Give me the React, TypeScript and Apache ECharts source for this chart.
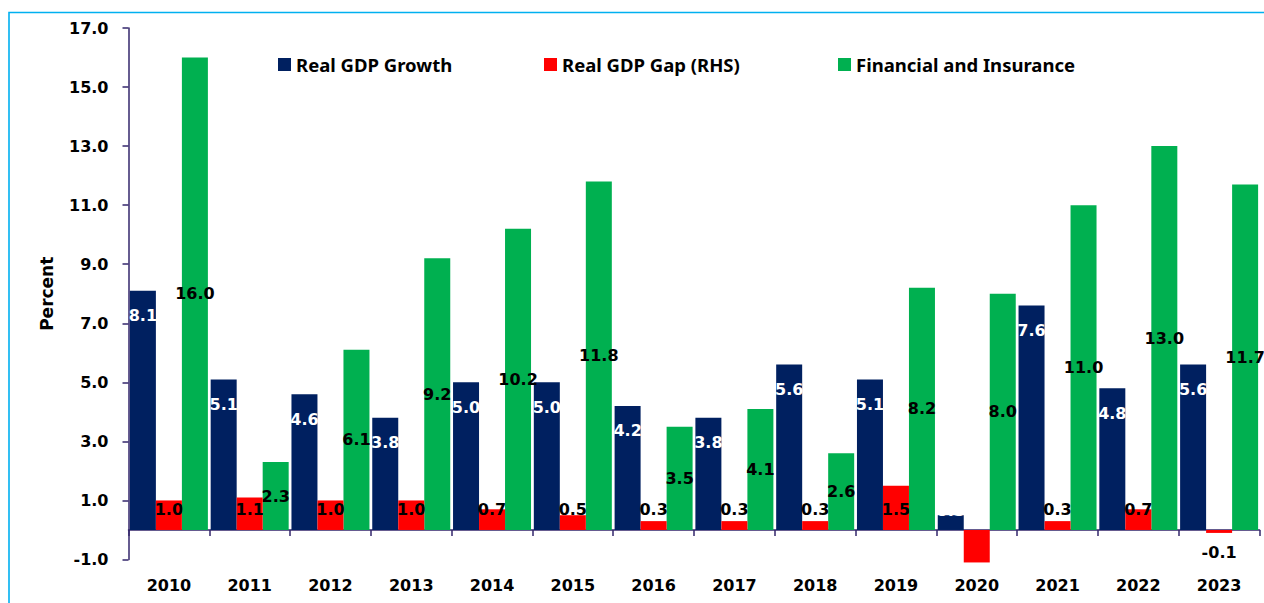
import React, { useEffect, useRef } from "react";
import * as echarts from "echarts";

const categories = ["2010", "2011", "2012", "2013", "2014", "2015", "2016", "2017", "2018", "2019", "2020", "2021", "2022", "2023"];
const realGdpGrowth = [8.1, 5.1, 4.6, 3.8, 5.0, 5.0, 4.2, 3.8, 5.6, 5.1, 0.5, 7.6, 4.8, 5.6];
const realGdpGap = [1.0, 1.1, 1.0, 1.0, 0.7, 0.5, 0.3, 0.3, 0.3, 1.5, -1.1, 0.3, 0.7, -0.1];
const financialInsurance = [16.0, 2.3, 6.1, 9.2, 10.2, 11.8, 3.5, 4.1, 2.6, 8.2, 8.0, 11.0, 13.0, 11.7];
const yTickLabels = ["-1.0", "1.0", "3.0", "5.0", "7.0", "9.0", "11.0", "13.0", "15.0", "17.0"];
const hiddenGapLabels = ["2020"];

const seriesNames = ["Real GDP Growth", "Real GDP Gap (RHS)", "Financial and Insurance"];

const NAVY = "#002060";
const RED = "#FF0000";
const GREEN = "#00B050";
const AXIS = "#33266B";
const FONT = "DejaVu Sans";

export default function App() {
  const ref = useRef<HTMLDivElement>(null);
  useEffect(() => {
    if (!ref.current) return;
    const chart = echarts.init(ref.current, undefined, { renderer: "svg" });
    const labelBase = { fontFamily: FONT, fontWeight: "bold" as const, fontSize: 16 };
    const legendText = { fontFamily: "Noto Sans", fontWeight: "bold" as const, fontSize: 18.5, color: "#000" };
    const legendCommon = {
      top: 50,
      icon: "rect",
      itemWidth: 13,
      itemHeight: 13,
      itemGap: 5,
      textStyle: legendText,
      selectedMode: false,
    };
    chart.setOption({
      animation: false,
      graphic: [
        {
          type: "rect",
          shape: { x: 9, y: 12.5, width: 1400, height: 800 },
          style: { fill: "none", stroke: "#00B0F0", lineWidth: 1.6 },
          z: -10,
          silent: true,
        },
      ],
      legend: [
        { ...legendCommon, left: 273, data: [seriesNames[0]] },
        { ...legendCommon, left: 539, data: [seriesNames[1]] },
        { ...legendCommon, left: 833, data: [seriesNames[2]] },
      ],
      grid: {
        left: 128.5,
        right: 4.5,
        top: 28,
        bottom: 43.5,
        containLabel: false,
        outerBoundsMode: "none",
      },
      xAxis: {
        type: "category",
        data: categories,
        axisLine: { show: true, onZero: true, onZeroAxisIndex: 0, lineStyle: { color: AXIS, width: 1.5 } },
        axisTick: { show: true, length: 6, lineStyle: { color: AXIS, width: 1.5 }, alignWithLabel: false },
        axisLabel: { ...labelBase, color: "#000", margin: 18 },
        splitLine: { show: false },
      },
      yAxis: [
        {
          type: "value",
          min: -1,
          max: 17,
          show: false,
          splitLine: { show: false },
        },
        {
          type: "value",
          min: 0,
          max: (yTickLabels.length - 1) * 2,
          interval: 2,
          position: "left",
          name: "Percent",
          nameLocation: "middle",
          nameGap: 73,
          nameTextStyle: { fontFamily: FONT, fontWeight: "bold", fontSize: 17, color: "#000" },
          axisLine: { show: true, lineStyle: { color: AXIS, width: 1.5 } },
          axisTick: { show: true, length: 6, lineStyle: { color: AXIS, width: 1.5 } },
          axisLabel: {
            ...labelBase,
            color: "#000",
            margin: 20,
            formatter: (v: number) => yTickLabels[Math.round(v / 2)] ?? "",
          },
          splitLine: { show: false },
        },
      ],
      series: [
        {
          name: seriesNames[0],
          type: "bar",
          yAxisIndex: 0,
          barWidth: 26,
          barGap: "0%",
          itemStyle: { color: NAVY },
          data: realGdpGrowth.map((v) =>
            v < 1
              ? { value: v, label: { position: "top", distance: -3 } }
              : v
          ),
          label: {
            show: true,
            ...labelBase,
            color: "#fff",
            position: "insideTop",
            distance: 17,
            formatter: (p: any) => Number(p.value).toFixed(1),
          },
        },
        {
          name: seriesNames[1],
          type: "bar",
          yAxisIndex: 0,
          barWidth: 26,
          barGap: "0%",
          clip: false,
          itemStyle: { color: RED },
          data: realGdpGap.map((v, i) => {
            if (hiddenGapLabels.includes(categories[i])) return { value: v, label: { show: false } };
            if (v < 0) return { value: v, label: { position: "bottom", distance: 12 } };
            return v;
          }),
          label: {
            show: true,
            ...labelBase,
            color: "#000",
            position: "insideBottom",
            distance: 12,
            formatter: (p: any) => Number(p.value).toFixed(1),
          },
          z: 3,
        },
        {
          name: seriesNames[2],
          type: "bar",
          yAxisIndex: 0,
          barWidth: 26,
          barGap: "0%",
          itemStyle: { color: GREEN },
          data: financialInsurance,
          label: {
            show: true,
            ...labelBase,
            color: "#000",
            position: "inside",
            formatter: (p: any) => Number(p.value).toFixed(1),
          },
        },
      ],
    });
    return () => chart.dispose();
  }, []);
  return (
    <div
      ref={ref}
      style={{ position: "fixed", left: 0, top: 0, width: 1264, height: 603, background: "#fff" }}
    />
  );
}
